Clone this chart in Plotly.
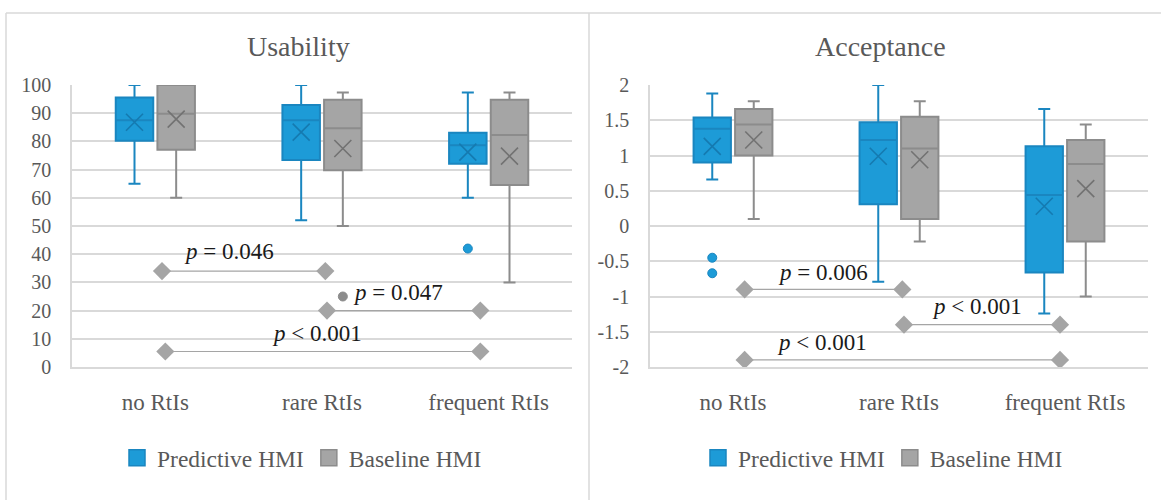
import plotly.graph_objects as go

categories = ["no RtIs", "rare RtIs", "frequent RtIs"]
series_names = ["Predictive HMI", "Baseline HMI"]

# ---- Usability (left panel) ----
usab_pred_min = [65, 52, 60]
usab_pred_q1 = [80.2, 73.4, 72.1]
usab_pred_med = [87.5, 87.5, 78.6]
usab_pred_q3 = [95.6, 92.9, 83.1]
usab_pred_max = [100, 100, 97.3]
usab_pred_mean = [86.8, 83.3, 76.2]
usab_pred_outliers = [[], [], [42]]

usab_base_min = [60, 50, 30]
usab_base_q1 = [77.0, 69.8, 64.5]
usab_base_med = [89.8, 84.7, 82.3]
usab_base_q3 = [100, 94.8, 94.8]
usab_base_max = [100, 97.3, 97.3]
usab_base_mean = [87.9, 77.5, 74.8]
usab_base_outliers = [[], [25], []]

usab_ticks = [0, 10, 20, 30, 40, 50, 60, 70, 80, 90, 100]
usab_sig_y = [34, 20, 5.5]
usab_sig_x = [[0.04, 1.02], [1.03, 1.95], [0.06, 1.95]]
usab_sig_text = ["<i>p</i> = 0.046", "<i>p</i> = 0.047", "<i>p</i> < 0.001"]

# ---- Acceptance (right panel) ----
acc_pred_min = [0.66, -0.79, -1.24]
acc_pred_q1 = [0.90, 0.31, -0.66]
acc_pred_med = [1.38, 1.22, 0.44]
acc_pred_q3 = [1.54, 1.47, 1.13]
acc_pred_max = [1.88, 2.0, 1.66]
acc_pred_mean = [1.13, 0.99, 0.28]
acc_pred_outliers = [[-0.45, -0.67], [], []]

acc_base_min = [0.10, -0.22, -1.0]
acc_base_q1 = [1.0, 0.10, -0.22]
acc_base_med = [1.44, 1.10, 0.88]
acc_base_q3 = [1.66, 1.55, 1.22]
acc_base_max = [1.77, 1.77, 1.44]
acc_base_mean = [1.22, 0.94, 0.53]
acc_base_outliers = [[], [], []]

acc_ticks = [-2, -1.5, -1, -0.5, 0, 0.5, 1, 1.5, 2]
acc_sig_y = [-0.9, -1.4, -1.9]
acc_sig_x = [[0.07, 1.02], [1.03, 1.97], [0.07, 1.97]]
acc_sig_text = ["<i>p</i> = 0.006", "<i>p</i> < 0.001", "<i>p</i> < 0.001"]

# ---- styles ----
FONT = "Liberation Serif"
TXT = "#595959"
GRID = "#d9d9d9"
BLUE_FILL = "#1d9bd7"
BLUE_LINE = "#1a86c0"
BLUE_X = "#157ab0"
GRAY_FILL = "#a5a5a5"
GRAY_LINE = "#8c8c8c"
GRAY_X = "#727272"
SIG = "#a5a5a5"
OFF = 0.125
BW = 0.225

W, H = 1161, 500
fig = go.Figure()

def add_panel(xa, ya, stats, outliers, sig_x, sig_y, legend):
    specs = [
        (-OFF, BLUE_FILL, BLUE_LINE, BLUE_X, series_names[0]),
        (OFF, GRAY_FILL, GRAY_LINE, GRAY_X, series_names[1]),
    ]
    for (off, fill, line, xcol, name), st, outs in zip(specs, stats, outliers):
        mn, q1, md, q3, mx, mean = st
        xs = [i + off for i in range(len(categories))]
        fig.add_trace(go.Box(
            x=xs, q1=q1, median=md, q3=q3, lowerfence=mn, upperfence=mx,
            width=BW, whiskerwidth=0.32, fillcolor=fill,
            line=dict(color=line, width=2), boxpoints=False,
            xaxis=xa, yaxis=ya, showlegend=False, hoverinfo="skip", name=name))
        fig.add_trace(go.Scatter(
            x=xs, y=mean, mode="markers", xaxis=xa, yaxis=ya, showlegend=False,
            hoverinfo="skip",
            marker=dict(symbol="x-thin", size=17, line=dict(color=xcol, width=1.6))))
        ox, oy = [], []
        for i, vals in enumerate(outs):
            for v in vals:
                ox.append(i + off)
                oy.append(v)
        if ox:
            fig.add_trace(go.Scatter(
                x=ox, y=oy, mode="markers", xaxis=xa, yaxis=ya, showlegend=False,
                hoverinfo="skip",
                marker=dict(symbol="circle", size=9, color=fill if fill == BLUE_FILL else "#8c8c8c",
                            line=dict(color=line, width=1))))
        # legend entry
        fig.add_trace(go.Scatter(
            x=[None], y=[None], mode="markers", name=name, legend=legend,
            xaxis=xa, yaxis=ya,
            marker=dict(symbol="square", size=19, color=fill, line=dict(color=line, width=1.5))))
    for (xa0, xa1), yv in zip(sig_x, sig_y):
        fig.add_trace(go.Scatter(
            x=[xa0, xa1], y=[yv, yv], mode="lines+markers", xaxis=xa, yaxis=ya,
            showlegend=False, hoverinfo="skip",
            line=dict(color=SIG, width=1.2),
            marker=dict(symbol="diamond", size=14, color=SIG)))

add_panel("x", "y",
          [(usab_pred_min, usab_pred_q1, usab_pred_med, usab_pred_q3, usab_pred_max, usab_pred_mean),
           (usab_base_min, usab_base_q1, usab_base_med, usab_base_q3, usab_base_max, usab_base_mean)],
          [usab_pred_outliers, usab_base_outliers], usab_sig_x, usab_sig_y, "legend")
add_panel("x2", "y2",
          [(acc_pred_min, acc_pred_q1, acc_pred_med, acc_pred_q3, acc_pred_max, acc_pred_mean),
           (acc_base_min, acc_base_q1, acc_base_med, acc_base_q3, acc_base_max, acc_base_mean)],
          [acc_pred_outliers, acc_base_outliers], acc_sig_x, acc_sig_y, "legend2")

ydom = [1 - 367 / H, 1 - 85 / H]
xcommon = dict(range=[-0.5, 2.5], tickmode="array", tickvals=list(range(len(categories))),
               ticktext=categories, showgrid=False, zeroline=False, ticks="",
               showline=True, linecolor=GRID, linewidth=1.5,
               tickfont=dict(family=FONT, size=23, color=TXT), ticklabelstandoff=14,
               fixedrange=True, automargin=False)
ycommon = dict(showgrid=True, gridcolor=GRID, gridwidth=1.5, zeroline=False, ticks="",
               showline=True, linecolor=GRID, linewidth=1.5, tickmode="array",
               tickfont=dict(family=FONT, size=20, color=TXT), ticklabelstandoff=15,
               domain=ydom, fixedrange=True, automargin=False)

fig.update_layout(
    width=W, height=H, margin=dict(l=0, r=0, t=0, b=0, pad=0, autoexpand=False),
    paper_bgcolor="white", plot_bgcolor="white", boxmode="overlay",
    font=dict(family=FONT, color=TXT),
    xaxis=dict(xcommon, domain=[72 / W, 572 / W], anchor="y"),
    yaxis=dict(ycommon, range=[0, 100], tickvals=usab_ticks,
               ticktext=[f"{v:g}" for v in usab_ticks], anchor="x"),
    xaxis2=dict(xcommon, domain=[650 / W, 1148 / W], anchor="y2"),
    yaxis2=dict(ycommon, range=[-2, 2], tickvals=acc_ticks,
                ticktext=[f"{v:g}" for v in acc_ticks], anchor="x2"),
    legend=dict(orientation="h", x=302 / W, xanchor="center", y=1 - 458 / H, yanchor="middle",
                font=dict(family=FONT, size=23.5, color=TXT), bgcolor="rgba(0,0,0,0)"),
    legend2=dict(orientation="h", x=883 / W, xanchor="center", y=1 - 458 / H, yanchor="middle",
                 font=dict(family=FONT, size=23.5, color=TXT), bgcolor="rgba(0,0,0,0)"),
    showlegend=True,
)

annotations = [
    dict(text="Usability", x=298.5 / W, y=1 - 47 / H, xref="paper", yref="paper",
         xanchor="center", yanchor="middle",
         showarrow=False, font=dict(family=FONT, size=28, color=TXT)),
    dict(text="Acceptance", x=880 / W, y=1 - 47 / H, xref="paper", yref="paper",
         xanchor="center", yanchor="middle",
         showarrow=False, font=dict(family=FONT, size=28, color=TXT)),
]
usab_text_pos = [(0.44, 41.1), (1.456, 26.5), (0.97, 12.0)]
acc_text_pos = [(0.54, -0.656), (1.47, -1.14), (0.536, -1.65)]
for (tx, ty), t in zip(usab_text_pos, usab_sig_text):
    annotations.append(dict(text=t, x=tx, y=ty, xref="x", yref="y", showarrow=False,
                            xanchor="center", yanchor="middle",
                            font=dict(family=FONT, size=23, color="#1a1a1a")))
for (tx, ty), t in zip(acc_text_pos, acc_sig_text):
    annotations.append(dict(text=t, x=tx, y=ty, xref="x2", yref="y2", showarrow=False,
                            xanchor="center", yanchor="middle",
                            font=dict(family=FONT, size=23, color="#1a1a1a")))
fig.update_layout(annotations=annotations)

border = dict(color=GRID, width=1.5)
fig.update_layout(shapes=[
    dict(type="line", xref="paper", yref="paper", x0=6 / W, x1=1, y0=1 - 13 / H, y1=1 - 13 / H, line=border),
    dict(type="line", xref="paper", yref="paper", x0=6 / W, x1=6 / W, y0=0, y1=1 - 13 / H, line=border),
    dict(type="line", xref="paper", yref="paper", x0=589 / W, x1=589 / W, y0=0, y1=1 - 13 / H, line=border),
])

fig.write_html("out.html", config={"displayModeBar": False},
               post_script="document.body.style.margin='0';document.body.style.overflow='hidden';")
